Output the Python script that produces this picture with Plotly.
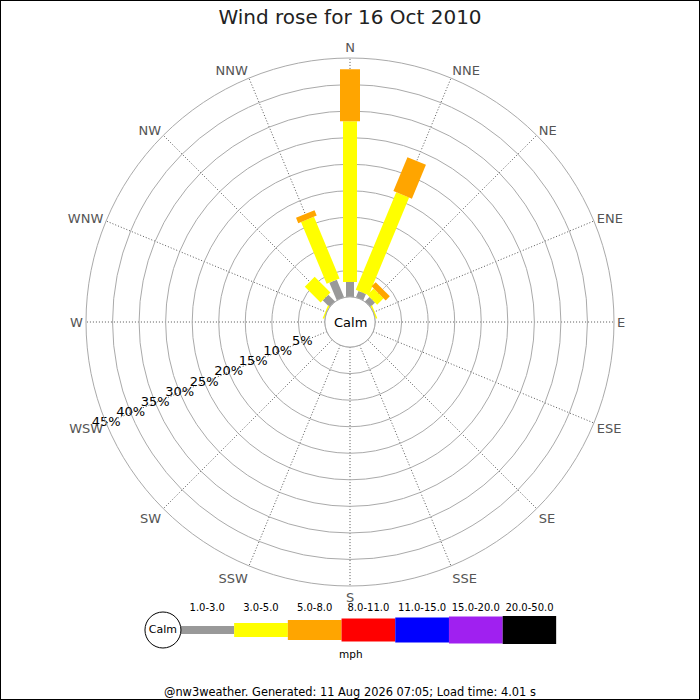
import plotly.graph_objects as go
import numpy as np

# ---------------- data ----------------
directions = ["N", "NNE", "NE", "ENE", "E", "ESE", "SE", "SSE",
              "S", "SSW", "SW", "WSW", "W", "WNW", "NW", "NNW"]
dir_angles = [i * 22.5 for i in range(16)]

speed_classes = ["1.0-3.0", "3.0-5.0", "5.0-8.0", "8.0-11.0",
                 "11.0-15.0", "15.0-20.0", "20.0-50.0"]
class_colors = ["#999999", "#ffff00", "#ffa500", "#ff0000",
                "#0000ff", "#a020f0", "#000000"]
class_widths = [8, 14, 20, 23, 25, 27, 28]   # px, drawing style

# percent of time per direction, per speed class
pct_1_3 = [2.8, 1.3, 1.2, 0, 0, 0, 0, 0, 0, 0, 0, 0, 0, 0, 1.8, 3.6]
pct_3_5 = [30.3, 19.9, 1.7, 0.3, 0, 0, 0, 0, 0, 0, 0, 0, 0, 0.3, 4.2, 12.6]
pct_5_8 = [9.8, 6.9, 1.1, 0, 0, 0, 0, 0, 0, 0, 0, 0, 0, 0, 0, 1.1]
pct_8_11 = [0] * 16
pct_11_15 = [0] * 16
pct_15_20 = [0] * 16
pct_20_50 = [0] * 16
series = [pct_1_3, pct_3_5, pct_5_8, pct_8_11, pct_11_15, pct_15_20, pct_20_50]

ring_vals = [5, 10, 15, 20, 25, 30, 35, 40, 45]
ring_labels = [f"{v}%" for v in ring_vals]

title_text = "Wind rose for 16 Oct 2010"
footer_text = "@nw3weather. Generated: 11 Aug 2026 07:05; Load time: 4.01 s"

FONT = "DejaVu Sans"

fig = go.Figure()

# ---------------- rose ----------------
cum = np.zeros(16)
for k, vals in enumerate(series):
    r, th = [], []
    for i in range(16):
        v = vals[i]
        if v > 0:
            r += [cum[i], cum[i] + v, None]
            th += [dir_angles[i], dir_angles[i], None]
    cum = cum + np.array(vals)
    if r:
        fig.add_trace(go.Scatterpolar(
            r=r, theta=th, mode="lines", subplot="polar",
            line=dict(color=class_colors[k], width=class_widths[k]),
            hoverinfo="skip", connectgaps=False))

# calm circle edge
circ_theta = np.linspace(0, 360, 181)
fig.add_trace(go.Scatterpolar(
    r=np.zeros_like(circ_theta), theta=circ_theta, mode="lines",
    subplot="polar", line=dict(color="#aaaaaa", width=1), hoverinfo="skip"))

# ring labels along WSW
fig.add_trace(go.Scatterpolar(
    r=ring_vals, theta=[247.5] * len(ring_vals), mode="text",
    text=ring_labels, textposition="middle center", subplot="polar",
    textfont=dict(family=FONT, size=13, color="#000000"), hoverinfo="skip"))

# ---------------- legend strip ----------------
xs = list(range(len(speed_classes)))
fig.add_trace(go.Bar(
    x=xs, y=class_widths, base=[-w / 2 for w in class_widths],
    width=1.0, marker=dict(color=class_colors, line=dict(width=0)),
    hoverinfo="skip", xaxis="x", yaxis="y"))
fig.add_trace(go.Scatter(
    x=xs, y=[22] * len(xs), mode="text", text=speed_classes,
    textfont=dict(family=FONT, size=10, color="#000000"),
    hoverinfo="skip", xaxis="x", yaxis="y"))
fig.add_trace(go.Scatter(
    x=[-0.825], y=[0], mode="markers+text", text=["Calm"],
    textposition="middle center",
    marker=dict(size=36, color="white", line=dict(color="black", width=1)),
    textfont=dict(family=FONT, size=11, color="#000000"),
    hoverinfo="skip", xaxis="x", yaxis="y"))

fig.update_layout(
    width=700, height=700,
    margin=dict(l=0, r=0, t=0, b=0),
    paper_bgcolor="white", plot_bgcolor="white",
    showlegend=False,
    font=dict(family=FONT),
    title=dict(text=title_text, x=0.5, xanchor="center", y=0.976,
               yanchor="middle", font=dict(family=FONT, size=20, color="#222222")),
    polar=dict(
        domain=dict(x=[86 / 700, 614 / 700], y=[114 / 700, 642 / 700]),
        hole=0.095,
        bgcolor="white",
        angularaxis=dict(
            rotation=90, direction="clockwise", thetaunit="degrees",
            tickmode="array", tickvals=dir_angles, ticktext=directions,
            showgrid=True, gridcolor="#555555", griddash="1px,2px", gridwidth=1,
            showline=True, linecolor="#aaaaaa", linewidth=1,
            ticks="", tickfont=dict(family=FONT, size=13, color="#555555")),
        radialaxis=dict(
            range=[0, 45], tickmode="array", tickvals=ring_vals,
            showticklabels=False, ticks="", showline=False,
            gridcolor="#aaaaaa", gridwidth=1)),
    xaxis=dict(domain=[126.7 / 700, 556.4 / 700], range=[-1.5, 6.5],
               visible=False, fixedrange=True),
    yaxis=dict(domain=[40 / 700, 100 / 700], range=[-30, 30],
               visible=False, fixedrange=True),
    annotations=[
        dict(text="Calm", x=0.5, y=378 / 700, xref="paper", yref="paper",
             yanchor="middle", xanchor="center",
             showarrow=False, font=dict(family=FONT, size=13, color="#000000")),
        dict(text="mph", x=351 / 700, y=46 / 700, xref="paper", yref="paper",
             yanchor="middle", xanchor="center",
             showarrow=False, font=dict(family=FONT, size=10.5, color="#000000")),
        dict(text=footer_text, x=0.5, y=8 / 700, xref="paper", yref="paper",
             yanchor="middle", xanchor="center",
             showarrow=False, font=dict(family=FONT, size=11.4, color="#000000")),
    ],
    shapes=[dict(type="rect", xref="paper", yref="paper", x0=0, y0=0, x1=1, y1=1,
                 line=dict(color="black", width=2), layer="above")],
)

fig.write_html("out.html",
               config={"displayModeBar": False},
               post_script="document.body.style.margin='0px';document.body.style.overflow='hidden';")
